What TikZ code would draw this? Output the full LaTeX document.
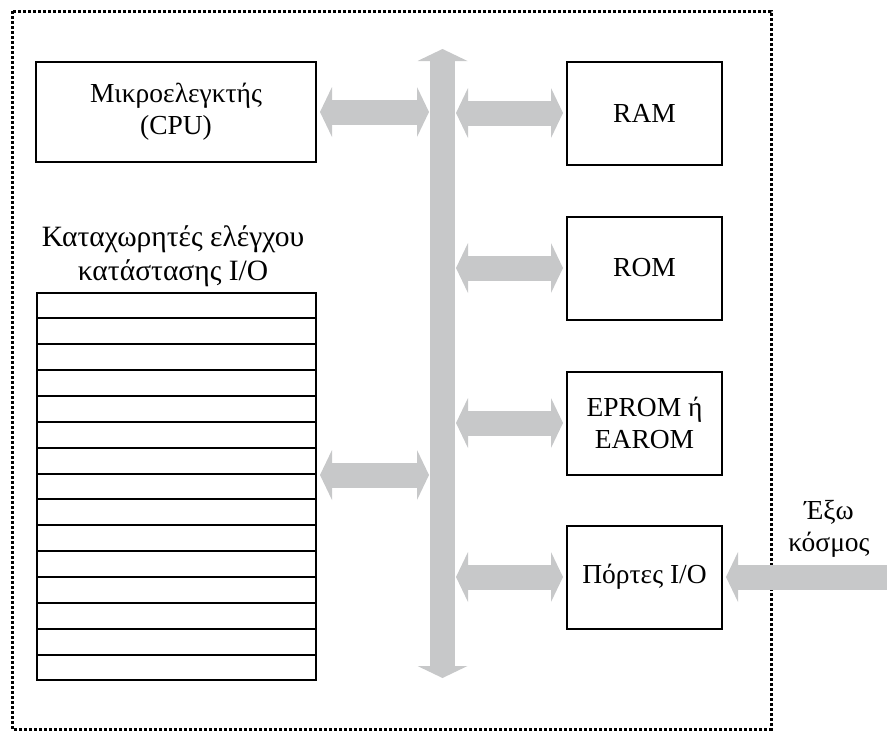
\documentclass[tikz,border=0pt]{standalone}
\usepackage{fontspec}
\setmainfont{Liberation Serif}
\usetikzlibrary{arrows.meta,calc}
\definecolor{busgray}{RGB}{199,200,201}
\tikzset{
  unit/.style={draw, line width=2pt, minimum width=155pt, minimum height=103pt,
    align=center, font=\fontsize{27.5}{32}\selectfont, inner sep=0pt},
  lbl/.style={align=center, font=\fontsize{27.5}{32}\selectfont, inner sep=0pt},
  tipbus/.tip={Triangle[width=50pt,length=12pt,line width=0pt]},
  busarrow/.style={draw=busgray, line width=25pt, line cap=butt, tipbus-tipbus},
  inarrow/.style={draw=busgray, line width=25pt, line cap=butt, -tipbus},
  frame/.style={line width=3pt, dash pattern=on 2.6pt off 2.4pt},
  regline/.style={line width=2pt}
}
\begin{document}
\begin{tikzpicture}[x=1pt,y=-1pt]
\useasboundingbox (0,0) rectangle (887,731);

% dotted outline of the microcomputer
\draw[frame] (12,11) rectangle (771,729);

% central bus
\coordinate (bustop) at (442.5,49);
\coordinate (busbot) at (442.5,678);
\draw[busarrow] (bustop) -- (busbot);

% functional units
\node[unit, minimum width=280pt, minimum height=100pt] (cpu) at (176,112) {Μικροελεγκτής\\(CPU)};
\node[unit] (ram)   at (644.5,113) {RAM};
\node[unit] (rom)   at (644.5,268) {ROM};
\node[unit] (eprom) at (644.5,423) {EPROM ή\\EAROM};
\node[unit] (io)    at (644.5,577) {Πόρτες I/O};

% I/O status/control registers
\node[draw, line width=2pt, minimum width=279pt, minimum height=387pt, inner sep=0pt] (regs) at (176.5,486.5) {};
\foreach \i in {1,...,14}
  \draw[regline] ($(regs.north west)!\i/15!(regs.south west)$) -- ($(regs.north east)!\i/15!(regs.south east)$);
\node[lbl, anchor=south, font=\fontsize{29.5}{34}\selectfont] (regslbl) at (173,287) {Καταχωρητές ελέγχου\\κατάστασης I/O};

% bus attachment points
\coordinate (busL1) at (429,112);
\coordinate (busL2) at (429,475);
\coordinate (busR1) at (456,113);
\coordinate (busR2) at (456,268);
\coordinate (busR3) at (456,423);
\coordinate (busR4) at (456,577);

% connections to the bus
\draw[busarrow] ([xshift=3pt]cpu.east) -- (busL1);
\draw[busarrow] ([xshift=3pt]regs.east |- busL2) -- (busL2);
\draw[busarrow] (busR1) -- ([xshift=-3pt]ram.west);
\draw[busarrow] (busR2) -- ([xshift=-3pt]rom.west);
\draw[busarrow] (busR3) -- ([xshift=-3pt]eprom.west);
\draw[busarrow] (busR4) -- ([xshift=-3pt]io.west);

% outside world
\coordinate (world) at (890,577);
\draw[inarrow] (world) -- ([xshift=3pt]io.east);
\node[lbl] (worldlbl) at (829,529) {Έξω\\κόσμος};
\end{tikzpicture}
\end{document}
